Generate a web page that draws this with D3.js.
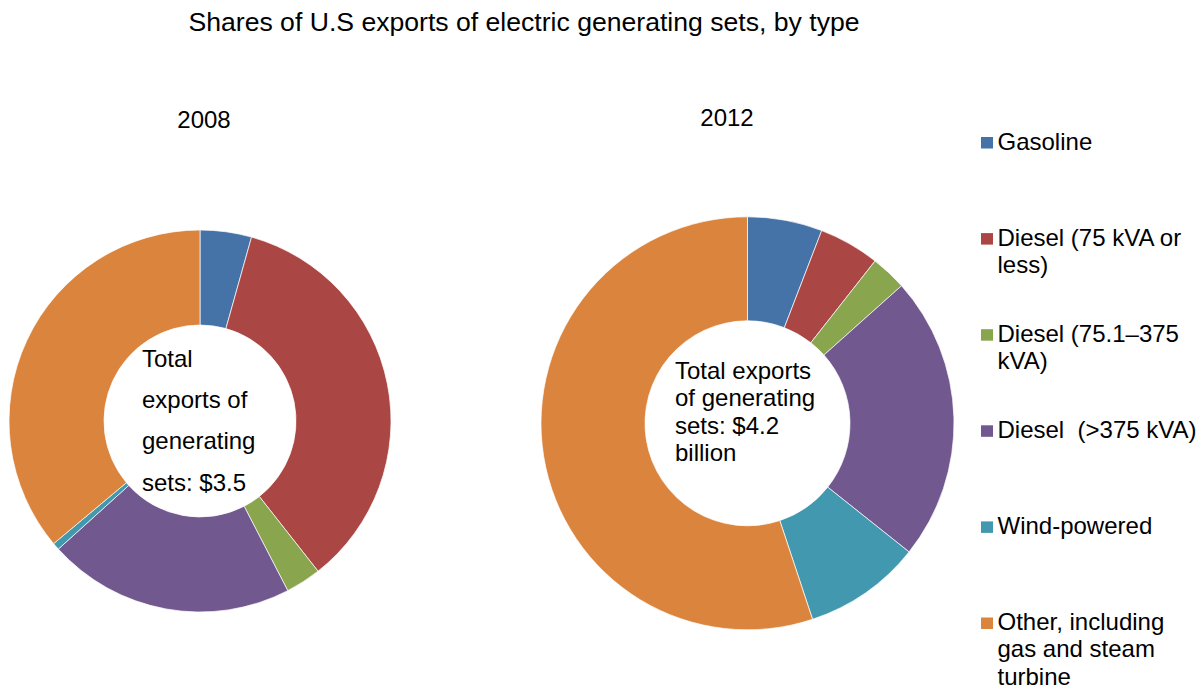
<!DOCTYPE html>
<html>
<head>
<meta charset="utf-8">
<script src="https://cdn.jsdelivr.net/npm/d3@7"></script>
<style>
  html, body { margin: 0; padding: 0; background: #fff; }
  svg { display: block; font-family: "Liberation Sans", Arial, sans-serif; }
</style>
</head>
<body>
<svg id="chart" width="1204" height="691"></svg>
<script>
// Export categories and their shares (%) for each year
const categories = [
  "Gasoline",
  "Diesel (75 kVA or less)",
  "Diesel (75.1–375 kVA)",
  "Diesel  (>375 kVA)",
  "Wind-powered",
  "Other, including gas and steam turbine"
];
const legendLines = [
  ["Gasoline"],
  ["Diesel (75 kVA or", "less)"],
  ["Diesel (75.1–375", "kVA)"],
  ["Diesel\u00a0\u00a0(>375 kVA)"],
  ["Wind-powered"],
  ["Other, including", "gas and steam", "turbine"]
];
const shares2008 = [4.35, 35.05, 3.0, 20.9, 0.6, 36.1];
const shares2012 = [5.85, 4.75, 2.8, 22.3, 9.2, 55.1];
const years = ["2008", "2012"];
const centerText2008 = ["Total", "exports of", "generating", "sets: $3.5"];
const centerText2012 = ["Total exports", "of generating", "sets: $4.2", "billion"];
const palette = ["#4572A7", "#AA4643", "#89A54E", "#71588F", "#4198AF", "#DB843D"];

const svg = d3.select("#chart");
const color = d3.scaleOrdinal().domain(categories).range(palette);

svg.append("text")
  .attr("x", 524).attr("y", 31)
  .attr("text-anchor", "middle")
  .attr("font-size", 26.6)
  .attr("fill", "#000")
  .text("Shares of U.S exports of electric generating sets, by type");

const pie = d3.pie().sort(null).value(d => d.value);

const donuts = [
  { year: years[0], values: shares2008, cx: 200, cy: 421, outer: 191, inner: 96,
    yearX: 204, yearY: 128, text: centerText2008, textX: 142, textY: 367, lineH: 41.2 },
  { year: years[1], values: shares2012, cx: 747.5, cy: 423.3, outer: 206.5, inner: 102.5,
    yearX: 727, yearY: 126, text: centerText2012, textX: 675, textY: 378.5, lineH: 27.6 }
];

donuts.forEach(cfg => {
  const data = categories.map((c, i) => ({ category: c, value: cfg.values[i] }));
  const arc = d3.arc().innerRadius(cfg.inner).outerRadius(cfg.outer);
  const g = svg.append("g").attr("transform", `translate(${cfg.cx},${cfg.cy})`);
  g.selectAll("path")
    .data(pie(data))
    .join("path")
    .attr("d", arc)
    .attr("fill", d => color(d.data.category))
    .attr("stroke", "#ffffff")
    .attr("stroke-width", 0.7);

  svg.append("text")
    .attr("x", cfg.yearX).attr("y", cfg.yearY)
    .attr("text-anchor", "middle")
    .attr("font-size", 24)
    .text(cfg.year);

  const t = svg.append("text")
    .attr("font-size", 24)
    .attr("fill", "#000");
  cfg.text.forEach((line, i) => {
    t.append("tspan")
      .attr("x", cfg.textX)
      .attr("y", cfg.textY + i * cfg.lineH)
      .text(line);
  });
});

// Legend
const legendTop = 149.5, legendStep = 96.1, legendLineH = 27.3;
const legend = svg.append("g");
categories.forEach((c, i) => {
  const y0 = legendTop + i * legendStep;
  legend.append("rect")
    .attr("x", 981).attr("y", y0 - 12.5)
    .attr("width", 12).attr("height", 11.5)
    .attr("fill", color(c));
  const t = legend.append("text").attr("font-size", 24).attr("fill", "#000");
  legendLines[i].forEach((line, j) => {
    t.append("tspan")
      .attr("x", 997.5)
      .attr("y", y0 + j * legendLineH)
      .text(line);
  });
});
</script>
</body>
</html>
